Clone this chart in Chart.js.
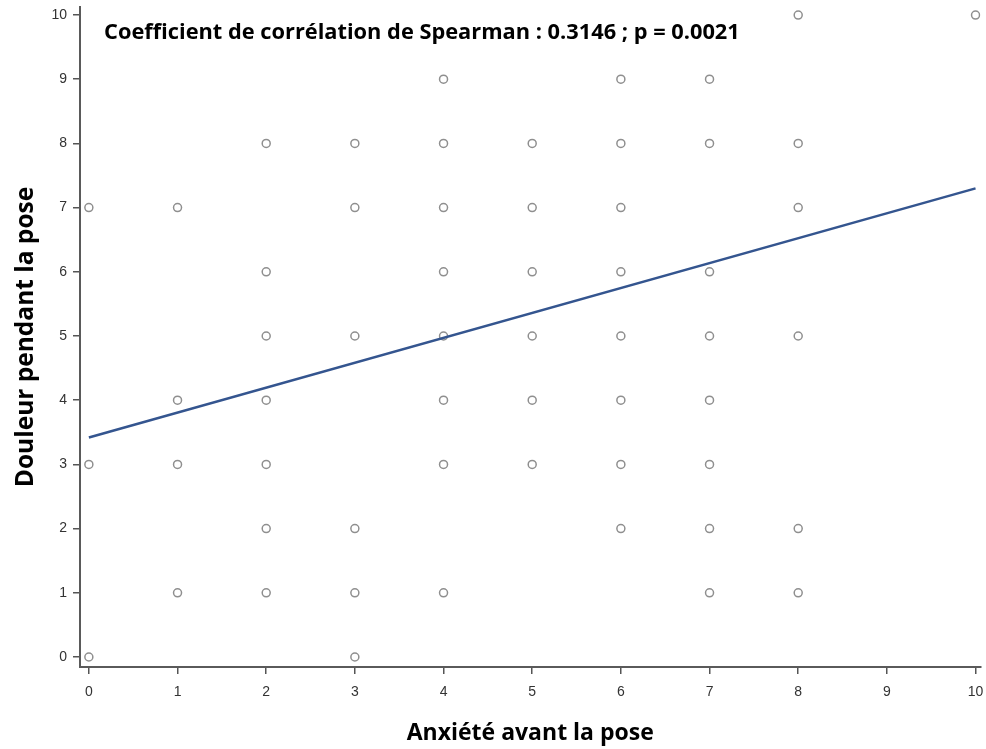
<!DOCTYPE html>
<html>
<head>
<meta charset="utf-8">
<script src="https://cdn.jsdelivr.net/npm/chart.js@4"></script>
<style>
html,body{margin:0;padding:0;background:#fff;}
#wrap{width:986px;height:749px;}
</style>
</head>
<body>
<div id="wrap"><canvas id="c" width="986" height="749"></canvas></div>
<script>
const anxiete = [0,0,0, 1,1,1,1, 2,2,2,2,2,2,2, 3,3,3,3,3,3, 4,4,4,4,4,4,4,4, 5,5,5,5,5,5, 6,6,6,6,6,6,6,6, 7,7,7,7,7,7,7,7, 8,8,8,8,8,8, 10];
const douleur = [7,3,0, 7,4,3,1, 8,6,5,4,3,2,1, 8,7,5,2,1,0, 9,8,7,6,5,4,3,1, 8,7,6,5,4,3, 9,8,7,6,5,4,3,2, 9,8,6,5,4,3,2,1, 10,8,7,5,2,1, 10];
const fitX = [0, 10];
const fitY = [3.42, 7.30];
const xTicks = [0,1,2,3,4,5,6,7,8,9,10];
const yTicks = [0,1,2,3,4,5,6,7,8,9,10];
const annotationText = "Coefficient de corrélation de Spearman : 0.3146 ; p = 0.0021";
const xTitle = "Anxiété avant la pose";
const yTitle = "Douleur pendant la pose";

const points = anxiete.map((x, i) => ({x: x, y: douleur[i]}));
const fitLine = fitX.map((x, i) => ({x: x, y: fitY[i]}));

const bgAndText = {
  id: 'bgAndText',
  beforeDraw(chart) {
    const ctx = chart.ctx;
    ctx.save();
    ctx.fillStyle = '#ffffff';
    ctx.fillRect(0, 0, chart.width, chart.height);
    ctx.restore();
  },
  afterDraw(chart) {
    const ctx = chart.ctx;
    ctx.save();
    ctx.fillStyle = '#000000';
    ctx.font = 'bold 21.8px "Open Sans"';
    ctx.textBaseline = 'alphabetic';
    ctx.textAlign = 'left';
    ctx.fillText(annotationText, 104, 39);
    ctx.restore();
  }
};

new Chart(document.getElementById('c'), {
  type: 'scatter',
  data: {
    datasets: [
      {
        type: 'line',
        data: fitLine,
        borderColor: '#34558f',
        borderWidth: 2.5,
        pointRadius: 0,
        fill: false,
        order: 0
      },
      {
        type: 'scatter',
        data: points,
        pointStyle: 'circle',
        pointRadius: 4,
        backgroundColor: 'rgba(255,255,255,0)',
        borderColor: '#8f8f8f',
        borderWidth: 1.5,
        order: 1
      }
    ]
  },
  options: {
    responsive: false,
    animation: false,
    layout: {padding: {top: 7, right: 0, bottom: 0, left: 0}},
    plugins: {
      legend: {display: false},
      tooltip: {enabled: false}
    },
    scales: {
      x: {
        type: 'linear',
        min: -0.1,
        max: 10.056,
        afterBuildTicks(scale) { scale.ticks = xTicks.map(v => ({value: v})); },
        afterFit(scale) { scale.height = 82; scale.paddingLeft = 0; scale.paddingRight = 0; },
        grid: {display: true, drawOnChartArea: false, drawTicks: true, tickLength: 7, color: '#555', lineWidth: 1.5},
        border: {display: true, color: '#5a5a5a', width: 2},
        ticks: {color: '#333', font: {family: '"Liberation Sans", Arial', size: 14}, padding: 10, maxRotation: 0},
        title: {display: true, text: xTitle, color: '#000', font: {family: '"Open Sans"', size: 23, weight: 'bold'}, padding: {top: 0, bottom: 2}}
      },
      y: {
        type: 'linear',
        min: -0.156,
        max: 10.125,
        afterBuildTicks(scale) { scale.ticks = yTicks.map(v => ({value: v})); },
        afterFit(scale) { scale.width = 80; scale.paddingTop = 0; scale.paddingBottom = 0; },
        grid: {display: true, drawOnChartArea: false, drawTicks: true, tickLength: 7, color: '#555', lineWidth: 1.5},
        border: {display: true, color: '#5a5a5a', width: 2},
        ticks: {color: '#333', font: {family: '"Liberation Sans", Arial', size: 14}, padding: 6},
        title: {display: true, text: yTitle, color: '#000', font: {family: '"Open Sans"', size: 24.5, weight: 'bold'}, padding: {top: 11, bottom: 0}}
      }
    }
  },
  plugins: [bgAndText]
});
</script>
</body>
</html>
